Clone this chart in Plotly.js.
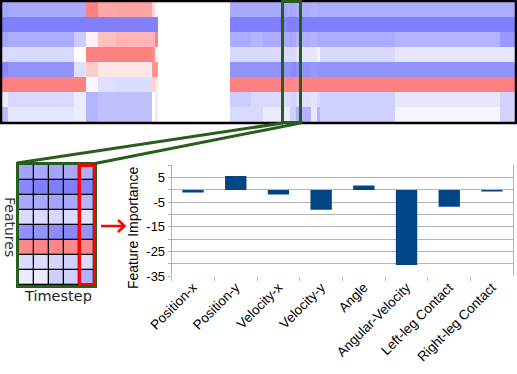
<!DOCTYPE html>
<html>
<head>
<meta charset="utf-8">
<script src="https://cdn.plot.ly/plotly-3.0.1.min.js"></script>
<style>
  html, body { margin: 0; padding: 0; background: #fff; }
  #plot { width: 517px; height: 374px; }
</style>
</head>
<body>
<div id="plot"></div>
<script>
// timestep boundaries of the runs of equal colour in the saliency map
const stepEdges = [0, 2, 24, 28, 32, 38, 50, 51, 52, 76, 83, 87, 94, 95, 96, 97, 98, 99, 103, 105, 106, 131, 166, 171];

// saliency per feature (negative = blue, positive = red), one value per run
const salPositionX   = [-0.72, -0.68, -0.68, 1.00, 0.70, 0.72, 0.35, 0.08, 0, -0.68, -0.68, -0.68, -0.72, -0.68, -0.72, -0.68, -0.62, -0.66, -0.60, -0.65, -0.65, -0.65, -0.65];
const salPositionY   = [-1.00, -1.00, -1.00, -1.00, -1.00, -1.00, -1.00, -1.00, 0, -1.00, -1.00, -1.00, -0.94, -1.00, -1.00, -1.00, -0.97, -1.00, -1.00, -1.00, -1.00, -1.00, -1.00];
const salVelocityX   = [-0.70, -0.65, -0.40, 0.10, 0.50, 0.58, 0.58, 1.00, 0, -0.65, -0.60, -0.65, -0.68, -0.68, -0.72, -0.68, -0.59, -0.62, -0.60, -0.65, -0.65, -0.60, -0.80];
const salVelocityY   = [-0.30, -0.30, 0.00, 1.00, 1.00, 1.00, 0.90, 0.08, 0, -0.30, -0.30, -0.30, -0.28, -0.28, -0.31, -0.28, -0.22, -0.20, -0.20, -0.10, -0.30, -0.20, -0.20];
const salAngle       = [-0.95, -0.85, -0.25, 0.40, 0.20, 0.20, 0.85, 0.85, 0, -0.85, -0.85, -0.85, -0.87, -0.84, -0.90, -0.94, -0.84, -0.85, -0.80, -0.85, -0.85, -0.85, -0.85];
const salAngularVel  = [1.00, 1.00, 1.00, -0.05, -0.25, -0.27, 0.35, 0.18, 0, 1.00, 1.00, 1.00, 0.94, 0.97, 0.97, 0.94, 0.94, 1.00, 1.00, 1.00, 1.00, 1.00, 1.00];
const salLeftLeg     = [-0.15, -0.30, -0.15, -0.60, -0.50, -0.50, 0.00, -0.15, 0, -0.40, -0.30, -0.30, -0.28, -0.28, -0.34, -0.37, -0.28, -0.25, -0.22, -0.30, -0.37, -0.20, -0.35];
const salRightLeg    = [-0.55, -0.20, -0.15, -0.60, -0.50, -0.50, 0.00, -0.15, 0, -0.30, -0.30, -0.15, -0.15, -0.15, -0.37, -0.37, -0.62, -0.60, -0.20, -0.60, -0.37, -0.08, -0.35];

// window shown enlarged in the inset
const windowStart = 94;
const windowEnd = 99;

const featureNames = ['Position-x', 'Position-y', 'Velocity-x', 'Velocity-y', 'Angle', 'Angular-Velocity', 'Left-leg Contact', 'Right-leg Contact'];
const importance = [-1.1, 5.7, -1.9, -8.1, 1.75, -30.5, -6.9, -0.7];
const importanceTicks = [5, -5, -15, -25, -35];

const salRows = [salPositionX, salPositionY, salVelocityX, salVelocityY, salAngle, salAngularVel, salLeftLeg, salRightLeg];

// page pixel -> paper fraction
const W = 517, H = 374;
const px = x => x / W;
const py = y => 1 - y / H;

const green = '#275e1b';
const scale = [[0, '#8080ff'], [0.5, '#ffffff'], [1, '#ff8080']];

// columns of the inset = runs inside the window
const c0 = stepEdges.indexOf(windowStart);
const c1 = stepEdges.indexOf(windowEnd);
const insetZ = salRows.map(r => r.slice(c0, c1));

const traces = [
  {
    type: 'heatmap', x: stepEdges, y: featureNames.map((_, i) => i), z: salRows,
    colorscale: scale, zmin: -1, zmax: 1, showscale: false, hoverinfo: 'skip',
    xaxis: 'x', yaxis: 'y'
  },
  {
    type: 'heatmap', z: insetZ,
    colorscale: scale, zmin: -1, zmax: 1, showscale: false, hoverinfo: 'skip',
    xgap: 1.3, ygap: 1.3, xaxis: 'x2', yaxis: 'y2'
  },
  {
    type: 'bar', x: featureNames, y: importance,
    marker: { color: '#004586' }, hoverinfo: 'skip',
    xaxis: 'x3', yaxis: 'y3'
  }
];

const hidden = { visible: false, fixedrange: true };

const layout = {
  width: W, height: H,
  margin: { l: 0, r: 0, t: 0, b: 0 },
  paper_bgcolor: '#ffffff',
  plot_bgcolor: 'rgba(0,0,0,0)',
  showlegend: false,
  bargap: 0.5,
  font: { family: 'Liberation Sans, Arial, sans-serif', color: '#000' },
  xaxis: Object.assign({ domain: [px(2), px(515)], range: [0, 171], anchor: 'y' }, hidden),
  yaxis: Object.assign({ domain: [py(122), py(2)], range: [7.5, -0.5], anchor: 'x' }, hidden),
  xaxis2: Object.assign({ domain: [px(19), px(94)], range: [-0.5, 4.5], anchor: 'y2' }, hidden),
  yaxis2: Object.assign({ domain: [py(285), py(165)], range: [7.5, -0.5], anchor: 'x2' }, hidden),
  xaxis3: {
    domain: [px(171.7), px(513.3)], anchor: 'y3', type: 'category',
    showgrid: false, zeroline: false, showline: false,
    tickson: 'boundaries', ticks: 'outside', ticklen: 4, tickcolor: '#b3b3b3',
    tickangle: -45, tickfont: { size: 13.5, color: '#000' }
  },
  yaxis3: {
    domain: [py(276), py(165.3)], anchor: 'x3', range: [-35, 10],
    tickvals: importanceTicks, ticktext: importanceTicks.map(String),
    showgrid: true, gridcolor: '#b3b3b3', gridwidth: 1,
    minor: { dtick: 5, tick0: 0, showgrid: true, gridcolor: '#b3b3b3', ticks: 'outside', ticklen: 3, tickcolor: '#b3b3b3' },
    ticks: 'outside', ticklen: 3, tickcolor: '#b3b3b3',
    showline: true, linecolor: '#b3b3b3', linewidth: 1, mirror: true,
    zeroline: false, tickfont: { size: 13, color: '#000' }
  },
  shapes: [
    // black backing that shows through the inset cell gaps
    { type: 'rect', xref: 'paper', yref: 'paper', layer: 'below',
      x0: px(19), x1: px(94), y0: py(285), y1: py(165), fillcolor: '#000', line: { width: 0 } },
    // frame of the full map
    { type: 'rect', xref: 'paper', yref: 'paper',
      x0: px(1), x1: px(516), y0: py(123), y1: py(1), line: { color: '#000', width: 2.5 } },
    // window box on the full map
    { type: 'rect', xref: 'paper', yref: 'paper',
      x0: px(282.5), x1: px(300.5), y0: py(122.5), y1: py(1.5), line: { color: green, width: 3 } },
    // zoom lines
    { type: 'line', xref: 'paper', yref: 'paper',
      x0: px(283), y0: py(123), x1: px(17), y1: py(163), line: { color: green, width: 3 } },
    { type: 'line', xref: 'paper', yref: 'paper',
      x0: px(300.5), y0: py(123), x1: px(95), y1: py(163.5), line: { color: green, width: 3 } },
    // inset frame
    { type: 'rect', xref: 'paper', yref: 'paper',
      x0: px(17.5), x1: px(95.5), y0: py(286.5), y1: py(163.5), line: { color: green, width: 3 } },
    // last timestep highlight
    { type: 'rect', xref: 'paper', yref: 'paper',
      x0: px(79.5), x1: px(94.5), y0: py(284.5), y1: py(165.5), line: { color: '#ff0000', width: 3 } },
    // arrow
    { type: 'path', xref: 'paper', yref: 'paper',
      path: `M${px(101)},${py(226)} L${px(124)},${py(226)} M${px(118)},${py(220)} L${px(124.5)},${py(226)} L${px(118)},${py(232)}`,
      line: { color: '#ff0000', width: 2.5 } }
  ],
  annotations: [
    { text: 'Features', xref: 'paper', yref: 'paper', x: px(10), y: py(227),
      textangle: 90, showarrow: false, xanchor: 'center', yanchor: 'middle',
      font: { family: 'DejaVu Sans', size: 14, color: '#333' } },
    { text: 'Timestep', xref: 'paper', yref: 'paper', x: px(58), y: py(296),
      showarrow: false, xanchor: 'center', yanchor: 'middle',
      font: { family: 'DejaVu Sans', size: 14.5, color: '#222' } },
    { text: 'Feature Importance', xref: 'paper', yref: 'paper', x: px(133), y: py(228),
      textangle: -90, showarrow: false, xanchor: 'center', yanchor: 'middle',
      font: { family: 'Liberation Sans', size: 14, color: '#000' } }
  ]
};

Plotly.newPlot('plot', traces, layout, { staticPlot: true, displayModeBar: false });
</script>
</body>
</html>
